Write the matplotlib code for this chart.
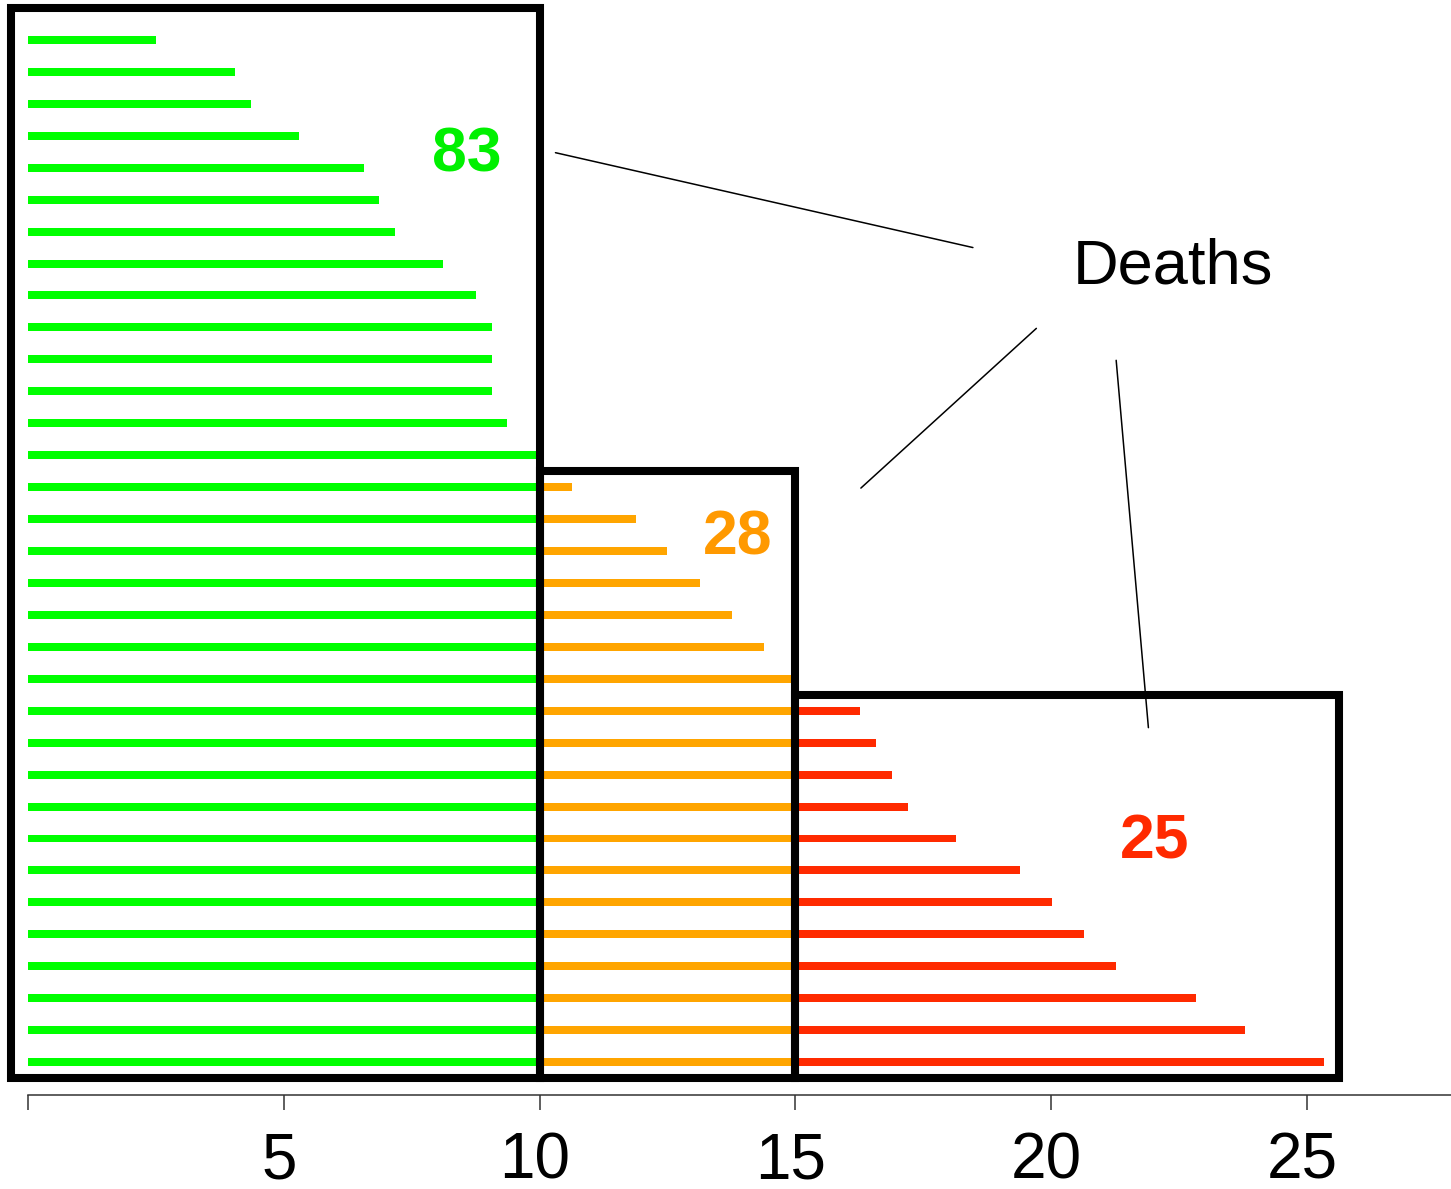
import numpy as np
import matplotlib
matplotlib.use("Agg")
import matplotlib.pyplot as plt
import matplotlib.transforms as mtransforms
from matplotlib.patches import Rectangle

plt.rcParams['font.family'] = ['Liberation Sans', 'DejaVu Sans']

# bar totals, top to bottom
totals = [2.5, 4.05, 4.36, 5.3, 6.56, 6.87, 7.18, 8.12, 8.75, 9.06, 9.06, 9.06,
          9.37, 10.0, 10.63, 11.88, 12.5, 13.13, 13.76, 14.38, 15.0, 16.26,
          16.58, 16.89, 17.2, 18.14, 19.39, 20.02, 20.65, 21.27, 22.84, 23.78,
          25.34]
cuts = [10, 15]
group_labels = ["83", "28", "25"]
bar_colors = ["#00ff00", "#ffa500", "#ff2a00"]
label_colors = ["#00f000", "#ff9900", "#ff2a00"]
xticks = [0, 5, 10, 15, 20, 25]
xticklabels = ["", "5", "10", "15", "20", "25"]

vals = np.array(totals)
rows = np.arange(len(vals))
green = np.minimum(vals, cuts[0])
orange = np.clip(vals - cuts[0], 0, cuts[1] - cuts[0])
red = np.maximum(vals - cuts[1], 0)

fig = plt.figure(figsize=(14.51, 11.89), dpi=100)
ax = fig.add_axes([0, 94 / 1189, 1, 1095 / 1189])

h = 0.25
ax.barh(rows, green, height=h, color=bar_colors[0], left=0)
ax.barh(rows, orange, height=h, color=bar_colors[1], left=green)
ax.barh(rows, red, height=h, color=bar_colors[2], left=green + orange)

# boxes around each group
n = len(vals)
first_orange = int(np.argmax(vals > cuts[0]))
first_red = int(np.argmax(vals > cuts[1]))
bottom = n - 0.5
boxes = [(-0.33, -1.0, cuts[0]), (cuts[0], first_orange - 0.5, cuts[1]),
         (cuts[1], first_red - 0.5, vals.max() + 0.29)]
for x0, y0, x1 in boxes:
    ax.add_patch(Rectangle((x0, y0), x1 - x0, bottom - y0, fill=False,
                           edgecolor="black", linewidth=5.8, clip_on=False,
                           zorder=3))

# group counts
ax.text(8.57, 3.6, group_labels[0], color=label_colors[0], fontsize=45,
        fontweight="bold", ha="center", va="center")
ax.text(13.87, 15.6, group_labels[1], color=label_colors[1], fontsize=45,
        fontweight="bold", ha="center", va="center")
ax.text(22.02, 25.1, group_labels[2], color=label_colors[2], fontsize=45,
        fontweight="bold", ha="center", va="center")

# "Deaths" callout
ax.text(22.37, 7.12, "Deaths", fontsize=45.5, ha="center", va="center")
ax.annotate("", xy=(10.31, 3.53), xytext=(18.47, 6.5),
            arrowprops=dict(arrowstyle="-", lw=1.1, color="black",
                            shrinkA=0, shrinkB=0))
ax.annotate("", xy=(16.28, 14.03), xytext=(19.71, 9.03),
            arrowprops=dict(arrowstyle="-", lw=1.1, color="black",
                            shrinkA=0, shrinkB=0))
ax.annotate("", xy=(21.9, 21.53), xytext=(21.27, 10.03),
            arrowprops=dict(arrowstyle="-", lw=1.1, color="black",
                            shrinkA=0, shrinkB=0))

ax.set_xlim(-28 / 51.16, 1423 / 51.16)
ax.set_ylim(33.03, -1.25)
for s in ["top", "left", "right"]:
    ax.spines[s].set_visible(False)
ax.spines["bottom"].set_bounds(0, 1423 / 51.16)
ax.spines["bottom"].set_linewidth(1.1)
ax.spines["bottom"].set_color("#333333")
ax.set_yticks([])
ax.set_xticks(xticks)
ax.set_xticklabels(xticklabels, fontsize=46)
ax.tick_params(axis="x", length=11, width=1.1, color="#333333", pad=15)
shift = mtransforms.ScaledTranslation(-5 / 100, 0, fig.dpi_scale_trans)
for lbl in ax.get_xticklabels():
    lbl.set_transform(lbl.get_transform() + shift)
ax.patch.set_visible(False)

fig.savefig("out.png", dpi=100)
